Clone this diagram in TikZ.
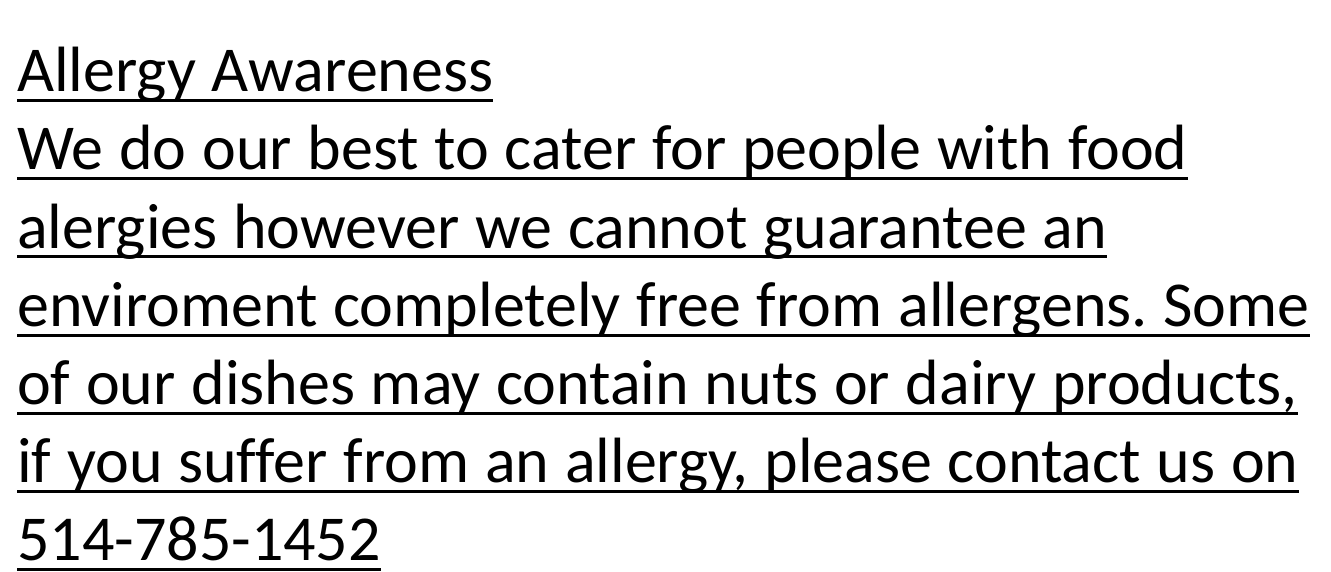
\documentclass[tikz,border=0pt]{standalone}
\usepackage{fontspec}
\setmainfont{Carlito}[Ligatures=NoCommon]
\newcommand{\myline}[1]{\fontsize{64}{77}\selectfont\spaceskip=15.7pt\relax #1}
\begin{document}
\frenchspacing
\begin{tikzpicture}[x=1pt,y=-1pt,
  line/.style={anchor=base west,inner sep=0pt},
  uline/.style={line width=3pt}]
\useasboundingbox (0,0) rectangle (1331,572);
\node[line] (l1) at (17,92) {\myline{Allergy Awareness}};
\node[line] (l2) at (17,170) {\myline{We do our best to cater for people with food}};
\node[line] (l3) at (17,248) {\myline{alergies however we cannot guarantee an}};
\node[line] (l4) at (17,326) {\myline{enviroment completely free from allergens. Some}};
\node[line] (l5) at (17,404) {\myline{of our dishes may contain nuts or dairy products,}};
\node[line] (l6) at (17,482) {\myline{if you suffer from an allergy, please contact us on}};
\node[line] (l7) at (17,560) {\myline{514-785-1452}};
\foreach \n in {l1,l2,l3,l4,l5,l6,l7}
  \draw[uline] ([yshift=-9pt]\n.base west) -- ([yshift=-9pt]\n.base east);
\end{tikzpicture}
\end{document}
